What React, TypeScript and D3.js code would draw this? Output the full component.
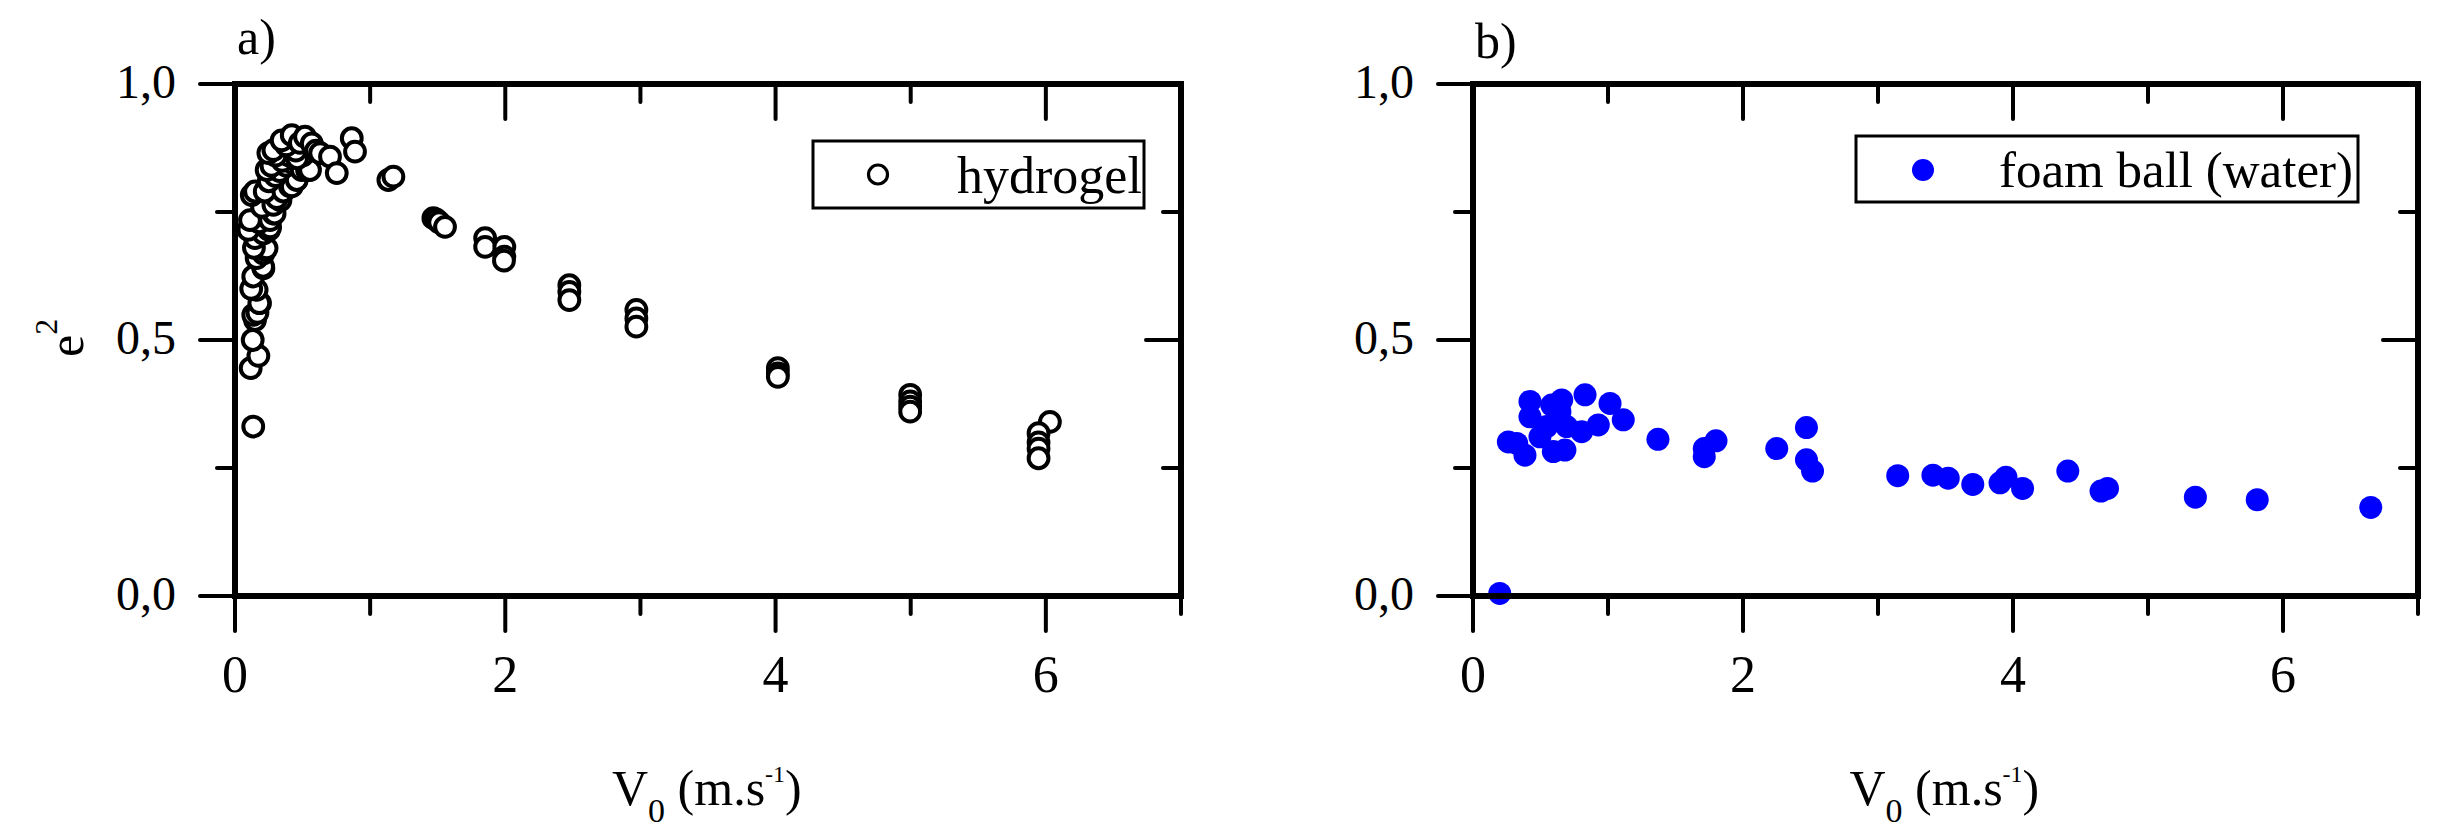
import React from 'react';
import * as d3 from 'd3';

// ---------- data (V0 in m/s, e^2) ----------
const hydrogelPoints: [number, number][] = [
  [0.135, 0.331], [0.116, 0.445], [0.173, 0.469], [0.131, 0.5], [0.148, 0.539],
  [0.135, 0.549], [0.166, 0.553], [0.185, 0.572], [0.18, 0.572], [0.16, 0.598],
  [0.12, 0.6], [0.135, 0.624], [0.21, 0.64], [0.208, 0.643], [0.16, 0.66],
  [0.21, 0.669], [0.222, 0.676], [0.234, 0.679], [0.14, 0.68], [0.148, 0.699],
  [0.21, 0.708], [0.099, 0.715], [0.251, 0.715], [0.26, 0.72], [0.18, 0.73],
  [0.111, 0.734], [0.26, 0.734], [0.284, 0.747], [0.293, 0.747], [0.2, 0.76],
  [0.284, 0.764], [0.336, 0.773], [0.309, 0.777], [0.124, 0.783], [0.148, 0.79],
  [0.22, 0.79], [0.358, 0.79], [0.407, 0.8], [0.42, 0.8], [0.25, 0.81],
  [0.457, 0.8125], [0.3, 0.82], [0.33, 0.83], [0.38, 0.84], [0.43, 0.845],
  [0.494, 0.832], [0.533, 0.832], [0.555, 0.832], [0.234, 0.832], [0.27, 0.84],
  [0.35, 0.85], [0.4, 0.86], [0.5, 0.86], [0.3, 0.86], [0.46, 0.855],
  [0.247, 0.865], [0.45, 0.87], [0.284, 0.871], [0.38, 0.88], [0.345, 0.89],
  [0.42, 0.9], [0.48, 0.885], [0.518, 0.897], [0.568, 0.884], [0.6, 0.87],
  [0.63, 0.865], [0.703, 0.858], [0.753, 0.826], [0.864, 0.894], [0.888, 0.868],
  [1.135, 0.8125], [1.172, 0.819],
  [1.468, 0.738], [1.49, 0.735], [1.51, 0.73], [1.554, 0.721],
  [1.851, 0.699], [1.851, 0.682], [1.993, 0.682], [1.993, 0.663], [1.99, 0.655],
  [2.474, 0.607], [2.474, 0.594], [2.474, 0.578],
  [2.97, 0.559], [2.97, 0.542], [2.97, 0.526],
  [4.017, 0.445], [4.017, 0.435], [4.017, 0.428],
  [4.996, 0.393], [4.996, 0.38], [4.996, 0.37], [4.996, 0.36],
  [6.03, 0.34], [5.946, 0.318], [5.946, 0.3], [5.946, 0.288], [5.946, 0.269],
];

const foamPoints: [number, number][] = [
  [0.198, 0.005], [0.262, 0.301], [0.324, 0.298], [0.385, 0.275], [0.422, 0.38],
  [0.422, 0.35], [0.496, 0.311], [0.546, 0.331], [0.583, 0.373], [0.595, 0.282],
  [0.644, 0.36], [0.657, 0.383], [0.681, 0.285], [0.694, 0.331], [0.805, 0.321],
  [0.83, 0.393], [0.928, 0.334], [1.015, 0.376], [1.113, 0.344], [1.37, 0.306],
  [1.713, 0.272], [1.713, 0.288], [1.8, 0.303], [2.25, 0.288], [2.47, 0.329],
  [2.47, 0.266], [2.515, 0.244], [3.146, 0.235], [3.407, 0.236], [3.52, 0.23],
  [3.702, 0.218], [3.904, 0.221], [3.948, 0.232], [4.071, 0.21], [4.406, 0.244],
  [4.652, 0.205], [4.7, 0.21], [5.351, 0.193], [5.809, 0.188], [6.65, 0.173],
];

const xTicks = [0, 1, 2, 3, 4, 5, 6, 7];
const xMajor = [0, 2, 4, 6];
const xTickLabels = ['0', '2', '4', '6'];
const yTicks = [0, 0.25, 0.5, 0.75, 1];
const yMajor = [0, 0.5, 1];
const yTickLabels = ['0,0', '0,5', '1,0'];

const W = 2442;
const H = 840;
const FONT = '"Liberation Serif", "Times New Roman", serif';
const TOP = 84;
const BOTTOM = 596;
const MAJ = 35;
const MIN = 18;

interface PanelProps {
  left: number;
  right: number;
  points: [number, number][];
  filled: boolean;
  panelLabel: string;
  labelBaseline: number;
  legendText: string;
  legendBox: [number, number, number, number];
  legendFont: number;
  showYTitle: boolean;
}

function Panel(p: PanelProps) {
  const x = d3.scaleLinear().domain([0, 7]).range([p.left, p.right]);
  const y = d3.scaleLinear().domain([0, 1]).range([BOTTOM, TOP]);
  const isMajX = (v: number) => xMajor.includes(v);
  const isMajY = (v: number) => yMajor.includes(v);
  const [bx, by, bw, bh] = p.legendBox;
  const cx = (p.left + p.right) / 2;
  return (
    <g>
      {/* data */}
      {p.points.map((d, i) =>
        p.filled ? (
          <circle key={i} cx={x(d[0])} cy={y(d[1])} r={11.5} fill="#0000ff" />
        ) : (
          <circle key={i} cx={x(d[0])} cy={y(d[1])} r={9.9} fill="#fff" stroke="#000" strokeWidth={4} />
        )
      )}
      {/* frame */}
      <rect x={p.left} y={TOP} width={p.right - p.left} height={BOTTOM - TOP} fill="none" stroke="#000" strokeWidth={6} />
      {/* x ticks bottom (outward) and top (inward) */}
      {xTicks.map((v) => (
        <g key={'xt' + v}>
          <line x1={x(v)} x2={x(v)} y1={BOTTOM} y2={BOTTOM + (isMajX(v) ? MAJ : MIN)} stroke="#000" strokeWidth={4} strokeLinecap="round" />
          <line x1={x(v)} x2={x(v)} y1={TOP} y2={TOP + (isMajX(v) ? MAJ : MIN)} stroke="#000" strokeWidth={4} strokeLinecap="round" />
        </g>
      ))}
      {/* y ticks left (outward) and right (inward) */}
      {yTicks.map((v) => (
        <g key={'yt' + v}>
          <line x1={p.left} x2={p.left - (isMajY(v) ? MAJ : MIN)} y1={y(v)} y2={y(v)} stroke="#000" strokeWidth={4} strokeLinecap="round" />
          <line x1={p.right} x2={p.right - (isMajY(v) ? MAJ : MIN)} y1={y(v)} y2={y(v)} stroke="#000" strokeWidth={4} strokeLinecap="round" />
        </g>
      ))}
      {/* tick labels */}
      {xMajor.map((v, i) => (
        <text key={'xl' + v} x={x(v)} y={692} textAnchor="middle" fontSize={52} fontFamily={FONT}>
          {xTickLabels[i]}
        </text>
      ))}
      {yMajor.map((v, i) => (
        <text key={'yl' + v} x={p.left - 59} y={y(v) + 14} textAnchor="end" fontSize={48} fontFamily={FONT}>
          {yTickLabels[i]}
        </text>
      ))}
      {/* x title */}
      <text x={cx - 96} y={805} fontSize={50} fontFamily={FONT}>
        V
        <tspan dy={17} fontSize={34}>0</tspan>
        <tspan dy={-17}> (m.s</tspan>
        <tspan dy={-23} fontSize={24}>-1</tspan>
        <tspan dy={23}>)</tspan>
      </text>
      {p.showYTitle && (
        <text transform="translate(83,357) rotate(-90)" fontSize={50} fontFamily={FONT}>
          e
          <tspan dy={-26} fontSize={32}>2</tspan>
        </text>
      )}
      {/* panel label */}
      <text x={p.left + 2} y={p.labelBaseline} fontSize={50} fontFamily={FONT}>
        {p.panelLabel}
      </text>
      {/* legend */}
      <rect x={bx} y={by} width={bw} height={bh} fill="#fff" stroke="#000" strokeWidth={3} />
      {p.filled ? (
        <circle cx={bx + 67} cy={by + bh / 2 + 1} r={11} fill="#0000ff" />
      ) : (
        <circle cx={bx + 65} cy={by + bh / 2} r={9.5} fill="#fff" stroke="#000" strokeWidth={3.2} />
      )}
      <text x={bx + (p.filled ? 143 : 144)} y={by + bh / 2 + 18} fontSize={p.legendFont} fontFamily={FONT}>
        {p.legendText}
      </text>
    </g>
  );
}

export default function App() {
  return (
    <svg
      width={W}
      height={H}
      viewBox={`0 0 ${W} ${H}`}
      style={{ position: 'absolute', left: 0, top: 0, background: '#fff' }}
    >
      <rect x={0} y={0} width={W} height={H} fill="#fff" />
      <Panel
        left={235}
        right={1181}
        points={hydrogelPoints}
        filled={false}
        panelLabel="a)"
        labelBaseline={54}
        legendText="hydrogel"
        legendBox={[813, 141, 331, 67]}
        legendFont={52}
        showYTitle={true}
      />
      <Panel
        left={1473}
        right={2418}
        points={foamPoints}
        filled={true}
        panelLabel="b)"
        labelBaseline={58}
        legendText="foam ball (water)"
        legendBox={[1856, 136, 502, 66]}
        legendFont={51}
        showYTitle={false}
      />
    </svg>
  );
}
